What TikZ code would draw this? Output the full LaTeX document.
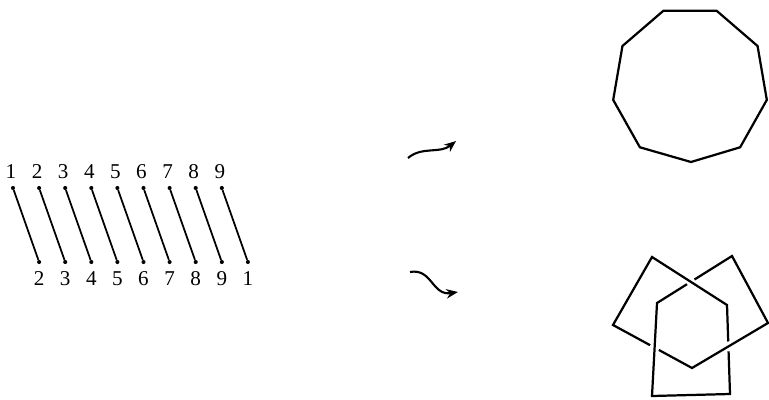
\documentclass[tikz,border=0pt]{standalone}
\usepackage{fontspec}
\setmainfont{Liberation Serif}
\usepackage{tikz}
\usetikzlibrary{calc,arrows.meta}

\tikzset{
    strand/.style={line width=1.5pt},
    enddot/.style={circle, fill, inner sep=0pt, minimum size=3.5pt},
    digit/.style={inner sep=0pt, font=\fontsize{18}{20}\selectfont},
    poly/.style={line width=1.9pt, line join=miter},
    wavy/.style={line width=1.8pt, -{Stealth[length=10pt,width=8pt]}}
}

\begin{document}
\begin{tikzpicture}[x=0.03cm, y=-0.03cm]
    \useasboundingbox (0,0) rectangle (769,400);
    % strands with their labels
    \foreach \i [evaluate=\i as \xt using 13+26.1*(\i-1),
                 evaluate=\i as \xb using 39.1+26.1*(\i-1)] in {1,...,9} {
        \node[enddot] (t\i) at (\xt,188) {};
        \node[enddot] (b\i) at (\xb,262) {};
        \node[digit] (lt\i) at (\xt-2,172) {\i};
        \draw[strand] (t\i) -- (b\i);
    }
    \foreach \i/\j in {1/2,2/3,3/4,4/5,5/6,6/7,7/8,8/9,9/1}
        \node[digit] (lb\i) at ($(b\i)+(0,17)$) {\j};
    % arrows
    \coordinate (u1) at (408,158);
    \coordinate (u2) at (456,141);
    \coordinate (d1) at (410,272);
    \coordinate (d2) at (458,292);
    \draw[wavy] (u1) .. controls (422,146) and (440,154) .. (u2);
    \draw[wavy] (d1) .. controls (432,268) and (432,296) .. (d2);
    % unknot
    \draw[poly] (691,162)
        \foreach \a in {-50,-10,...,230} { -- ($(690,86)+({78*cos(\a)},{-80*sin(\a)})$) } -- cycle;
    % trefoil
    \coordinate (A) at (652,257);
    \coordinate (B) at (727,305);
    \coordinate (C) at (730,394);
    \coordinate (D) at (652,396);
    \coordinate (E) at (657,303);
    \coordinate (F) at (732,256);
    \coordinate (G) at (768,323);
    \coordinate (H) at (692,368);
    \coordinate (I) at (613,325);
    \draw[poly] ($(E)!0.50!(F)$) -- (F) -- (G) -- (H) -- ($(H)!0.42!(I)$);
    \draw[poly] ($(H)!0.53!(I)$) -- (I) -- (A) -- (B) -- ($(B)!0.41!(C)$);
    \draw[poly] ($(B)!0.52!(C)$) -- (C) -- (D) -- (E) -- ($(E)!0.40!(F)$);
\end{tikzpicture}
\end{document}
